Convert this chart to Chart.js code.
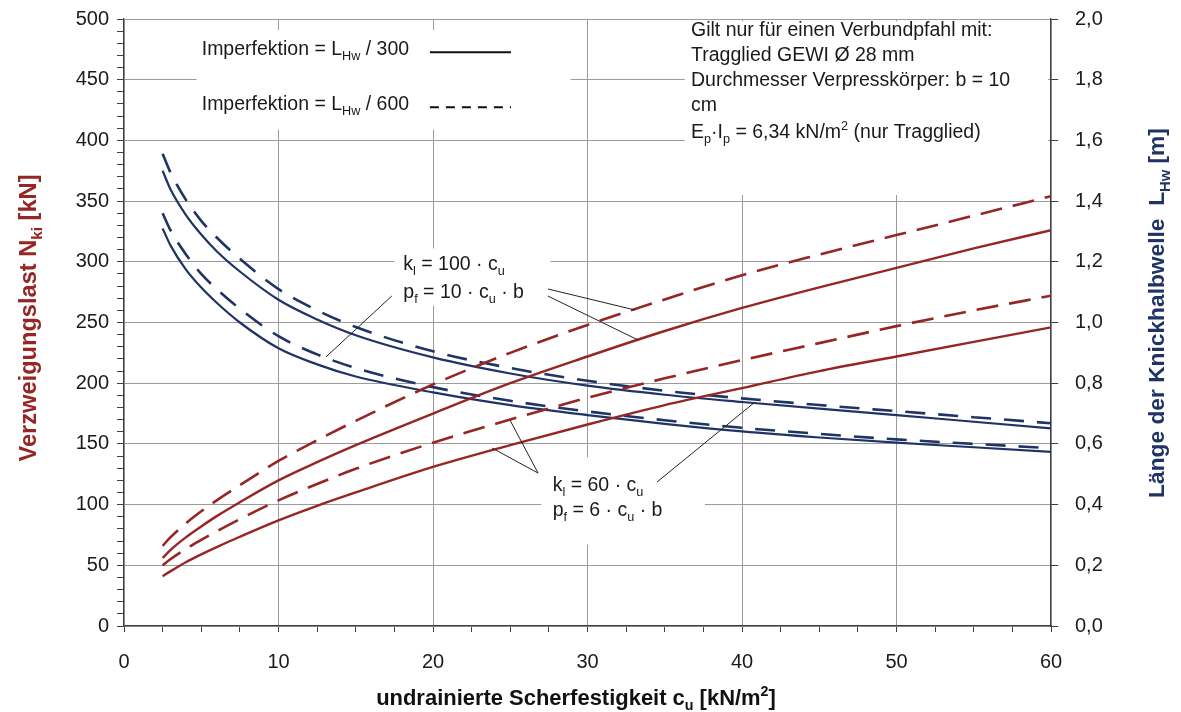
<!DOCTYPE html>
<html>
<head>
<meta charset="utf-8">
<script src="https://cdn.jsdelivr.net/npm/chart.js@4.4.1/dist/chart.umd.min.js"></script>
<style>
  html, body { margin: 0; background: #fff; }
  #wrap { width: 1181px; height: 712px; position: relative; }
</style>
</head>
<body>
<div id="wrap"><canvas id="myChart"></canvas></div>
<script>
const FONT = "'Liberation Sans', Arial, sans-serif"
const RED = "#952624"
const BLUE = "#1f3464"
const GRID = "#9b9b9b"
const AXIS = "#404040"

// undrained shear strength c_u [kN/m2]
const cuValues = [2.5, 3, 4, 5, 6, 7.5, 10, 12.5, 15, 20, 25, 30, 35, 40, 45, 50, 55, 60]

// buckling load N_ki [kN] (left axis)
const nkiK100L600 = [66, 73, 84.5, 94.5, 103.5, 116, 136, 153, 169, 199, 225, 248, 269, 289, 306, 322, 338, 354]
const nkiK100L300 = [56, 62.5, 73, 82, 90.5, 102, 120, 135, 149, 175, 200, 222, 243, 262, 279, 295, 311, 326]
const nkiK60L600 = [50, 55, 63.5, 71, 78, 88, 103.5, 117, 129.5, 151, 170, 188, 204, 219, 233, 247, 260, 272]
const nkiK60L300 = [41, 45, 52.5, 59, 65, 73.5, 87, 99, 110, 131, 149, 166, 182, 196, 210, 222, 234, 246]

// buckling half-wave length L_Hw [m] (right axis)
const lhwK60L600 = [1.556, 1.495, 1.405, 1.335, 1.28, 1.21, 1.11, 1.04, 0.985, 0.905, 0.85, 0.808, 0.775, 0.75, 0.728, 0.708, 0.688, 0.668]
const lhwK60L300 = [1.5, 1.44, 1.355, 1.29, 1.235, 1.168, 1.075, 1.01, 0.958, 0.885, 0.832, 0.792, 0.762, 0.738, 0.716, 0.695, 0.673, 0.651]
const lhwK100L600 = [1.36, 1.305, 1.225, 1.16, 1.11, 1.045, 0.955, 0.895, 0.85, 0.787, 0.742, 0.707, 0.678, 0.653, 0.633, 0.615, 0.6, 0.586]
const lhwK100L300 = [1.31, 1.255, 1.175, 1.115, 1.065, 1.0, 0.915, 0.862, 0.822, 0.77, 0.728, 0.695, 0.666, 0.641, 0.621, 0.604, 0.589, 0.574]

const xTicks = [0, 10, 20, 30, 40, 50, 60]
const nTicks = [0, 50, 100, 150, 200, 250, 300, 350, 400, 450, 500]
const lTicks = [0, 0.2, 0.4, 0.6, 0.8, 1.0, 1.2, 1.4, 1.6, 1.8, 2.0]

const pts = (ys) => cuValues.map((x, i) => ({ x: x, y: ys[i] }))

function curve(label, ys, color, dash, axis, width) {
  return {
    label: label,
    data: pts(ys),
    borderColor: color,
    borderWidth: width,
    borderDash: dash,
    pointRadius: 0,
    cubicInterpolationMode: "monotone",
    fill: false,
    yAxisID: axis,
  }
}

// helpers for text with sub/superscripts
function richWidth(ctx, parts, size, weight) {
  let w = 0
  parts.forEach(([t, k]) => {
    ctx.font = `${weight} ${k ? size * 0.65 : size}px ${FONT}`
    w += ctx.measureText(t).width
  })
  return w
}
function drawRich(ctx, parts, x, y, size, weight, color) {
  ctx.fillStyle = color
  ctx.textAlign = "left"
  ctx.textBaseline = "alphabetic"
  parts.forEach(([t, k]) => {
    ctx.font = `${weight} ${k ? size * 0.65 : size}px ${FONT}`
    const dy = k === "sub" ? size * 0.25 : k === "sup" ? -size * 0.42 : 0
    ctx.fillText(t, x, y + dy)
    x += ctx.measureText(t).width
  })
}
function fitSize(ctx, parts, weight, target) {
  return (20 * target) / richWidth(ctx, parts, 20, weight)
}

const textNotes = [
  { x: 5.03, y: 470.3, parts: [["Imperfektion = L"], ["Hw", "sub"], [" / 300"]] },
  { x: 5.03, y: 425.0, parts: [["Imperfektion = L"], ["Hw", "sub"], [" / 600"]] },
  { x: 36.7, y: 485.6, parts: [["Gilt nur für einen Verbundpfahl mit:"]] },
  { x: 36.7, y: 465.4, parts: [["Tragglied GEWI Ø 28 mm"]] },
  { x: 36.7, y: 444.8, parts: [["Durchmesser Verpresskörper: b = 10"]] },
  { x: 36.7, y: 424.2, parts: [["cm"]] },
  { x: 36.7, y: 402.0, parts: [["E"], ["p", "sub"], ["·I"], ["p", "sub"], [" = 6,34 kN/m"], ["2", "sup"], [" (nur Tragglied)"]] },
  { x: 18.08, y: 293.2, parts: [["k"], ["l", "sub"], [" = 100 · c"], ["u", "sub"]] },
  { x: 18.08, y: 270.2, parts: [["p"], ["f", "sub"], [" = 10 · c"], ["u", "sub"], [" · b"]] },
  { x: 27.75, y: 111.2, parts: [["k"], ["l", "sub"], [" = 60 · c"], ["u", "sub"]] },
  { x: 27.75, y: 90.6, parts: [["p"], ["f", "sub"], [" = 6 · c"], ["u", "sub"], [" · b"]] },
]
const leaders = [
  [17.33, 271.8, 13.07, 221.6],
  [27.44, 277.6, 33.07, 260.3],
  [27.44, 271.8, 33.27, 235.6],
  [26.8, 126.0, 23.82, 146.6],
  [26.8, 126.0, 24.98, 169.7],
  [34.5, 118.6, 40.84, 184.5],
]
const clearBoxes = [
  [4.7, 409, 28.9, 491],
  [36.3, 355, 59.8, 498],
  [17.5, 264, 27.6, 311],
  [27.0, 67, 37.6, 139],
]
const legendLines = [
  { x1: 19.8, x2: 25.05, y: 472.6, dash: [] },
  { x1: 19.8, x2: 25.05, y: 427.3, dash: [9, 7] },
]

const notesPlugin = {
  id: "notes",
  beforeDatasetsDraw(chart) {
    const { ctx, scales } = chart
    const sx = scales.x, sy = scales.yN
    ctx.save()
    ctx.fillStyle = "#fff"
    clearBoxes.forEach(([x1, y1, x2, y2]) => {
      const px1 = sx.getPixelForValue(x1), px2 = sx.getPixelForValue(x2)
      const py1 = sy.getPixelForValue(y2), py2 = sy.getPixelForValue(y1)
      ctx.fillRect(px1, py1, px2 - px1, py2 - py1)
    })
    ctx.restore()
  },
  afterDatasetsDraw(chart) {
    const { ctx, scales } = chart
    const sx = scales.x, sy = scales.yN
    ctx.save()
    textNotes.forEach((n) => {
      drawRich(ctx, n.parts, sx.getPixelForValue(n.x), sy.getPixelForValue(n.y), 19.5, "normal", "#1a1a1a")
    })
    ctx.strokeStyle = "#222"
    ctx.lineWidth = 1
    leaders.forEach(([x1, y1, x2, y2]) => {
      ctx.beginPath()
      ctx.moveTo(sx.getPixelForValue(x1), sy.getPixelForValue(y1))
      ctx.lineTo(sx.getPixelForValue(x2), sy.getPixelForValue(y2))
      ctx.stroke()
    })
    ctx.strokeStyle = "#111"
    ctx.lineWidth = 2.2
    legendLines.forEach((l) => {
      ctx.setLineDash(l.dash)
      ctx.beginPath()
      ctx.moveTo(sx.getPixelForValue(l.x1), sy.getPixelForValue(l.y))
      ctx.lineTo(sx.getPixelForValue(l.x2), sy.getPixelForValue(l.y))
      ctx.stroke()
    })
    ctx.setLineDash([])
    ctx.restore()
  },
  afterDraw(chart) {
    const ctx = chart.ctx
    ctx.save()
    // left title
    const leftParts = [["Verzweigungslast N"], ["ki", "sub"], [" [kN]"]]
    let s = fitSize(ctx, leftParts, "bold", 287)
    let w = richWidth(ctx, leftParts, s, "bold")
    ctx.save()
    ctx.translate(36, 318)
    ctx.rotate(-Math.PI / 2)
    drawRich(ctx, leftParts, -w / 2, 0, s, "bold", RED)
    ctx.restore()
    // right title
    const rightParts = [["Länge der Knickhalbwelle  L"], ["Hw", "sub"], [" [m]"]]
    s = fitSize(ctx, rightParts, "bold", 370)
    w = richWidth(ctx, rightParts, s, "bold")
    ctx.save()
    ctx.translate(1164, 313)
    ctx.rotate(-Math.PI / 2)
    drawRich(ctx, rightParts, -w / 2, 0, s, "bold", BLUE)
    ctx.restore()
    // bottom title
    const botParts = [["undrainierte Scherfestigkeit c"], ["u", "sub"], [" [kN/m"], ["2", "sup"], ["]"]]
    s = fitSize(ctx, botParts, "bold", 400)
    w = richWidth(ctx, botParts, s, "bold")
    drawRich(ctx, botParts, 576 - w / 2, 705, s, "bold", "#111")
    ctx.restore()
  },
}

const redDash = [22, 11]
const blueDash = [20, 13]

const data = {
  datasets: [
    curve("N k100 L/600", nkiK100L600, RED, redDash, "yN", 2.6),
    curve("N k100 L/300", nkiK100L300, RED, [], "yN", 2.4),
    curve("N k60 L/600", nkiK60L600, RED, redDash, "yN", 2.6),
    curve("N k60 L/300", nkiK60L300, RED, [], "yN", 2.4),
    curve("L k60 L/600", lhwK60L600, BLUE, blueDash, "yL", 2.6),
    curve("L k60 L/300", lhwK60L300, BLUE, [], "yL", 2.2),
    curve("L k100 L/600", lhwK100L600, BLUE, blueDash, "yL", 2.6),
    curve("L k100 L/300", lhwK100L300, BLUE, [], "yL", 2.2),
  ],
}

const tickFont = { family: FONT, size: 20 }
const yTickFont = { family: FONT, size: 20, lineHeight: 1 }
const minorGrid = (major) => (c) => (c.tick && major.some((m) => Math.abs(m - c.tick.value) < 1e-6) ? GRID : "rgba(0,0,0,0)")

const config = {
  type: "line",
  data: data,
  options: {
    responsive: true,
    maintainAspectRatio: false,
    animation: false,
    layout: { padding: { top: 19, left: 0, right: 0, bottom: 0 } },
    plugins: {
      legend: { display: false },
      tooltip: { enabled: false },
    },
    scales: {
      x: {
        type: "linear",
        min: 0,
        max: 60,
        afterBuildTicks: (scale) => {
          const t = []
          for (let v = 0; v <= 60; v += 2.5) t.push({ value: v })
          scale.ticks = t
        },
        afterFit: (scale) => { scale.height = 86 },
        grid: { color: minorGrid(xTicks), tickColor: AXIS, tickLength: 6, lineWidth: 1 },
        border: { color: AXIS, width: 1.2 },
        ticks: {
          autoSkip: false,
          maxRotation: 0,
          padding: 18,
          color: "#1a1a1a",
          font: tickFont,
          callback: (v) => (xTicks.includes(v) ? String(v) : ""),
        },
      },
      yN: {
        type: "linear",
        position: "left",
        min: 0,
        max: 500,
        afterBuildTicks: (scale) => {
          const t = []
          for (let v = 0; v <= 500; v += 10) t.push({ value: v })
          scale.ticks = t
        },
        afterFit: (scale) => { scale.width = 124 },
        grid: { color: minorGrid(nTicks), tickColor: AXIS, tickLength: 7, lineWidth: 1 },
        border: { color: AXIS, width: 1.2 },
        ticks: {
          autoSkip: false,
          padding: 8,
          color: "#1a1a1a",
          font: yTickFont,
          callback: (v) => (nTicks.includes(v) ? String(v) : ""),
        },
      },
      yL: {
        type: "linear",
        position: "right",
        min: 0,
        max: 2,
        afterBuildTicks: (scale) => {
          scale.ticks = lTicks.map((v) => ({ value: v }))
        },
        afterFit: (scale) => { scale.width = 130 },
        grid: { drawOnChartArea: false, tickColor: AXIS, tickLength: 16, tickBorderDash: [7, 40] },
        border: { color: AXIS, width: 1.2 },
        ticks: {
          autoSkip: false,
          padding: 8,
          color: "#1a1a1a",
          font: yTickFont,
          callback: (v) => v.toFixed(1).replace(".", ","),
        },
      },
    },
  },
  plugins: [notesPlugin],
}

new Chart(document.getElementById("myChart"), config)
</script>
</body>
</html>
